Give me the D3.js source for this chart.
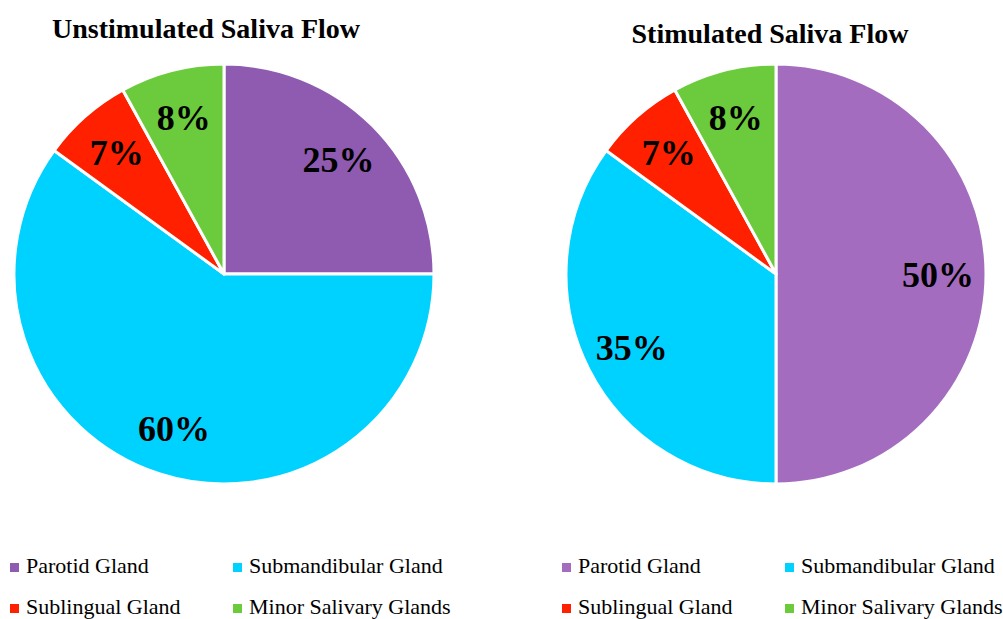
<!DOCTYPE html>
<html>
<head>
<meta charset="utf-8">
<script src="https://cdn.jsdelivr.net/npm/d3@7"></script>
<style>
  body { margin: 0; background: #fff; }
  svg { display: block; }
  .title { font-family: "Liberation Serif", "DejaVu Serif", serif; font-weight: bold; font-size: 28px; }
  .pct { font-family: "Liberation Serif", "DejaVu Serif", serif; font-weight: bold; font-size: 36px; }
  .legend-text { font-family: "Liberation Serif", "DejaVu Serif", serif; font-size: 22px; }
</style>
</head>
<body>
<div id="chart"></div>
<script>
// categories and values
const glands = ["Parotid Gland", "Submandibular Gland", "Sublingual Gland", "Minor Salivary Glands"];
const unstimulated = [25, 60, 7, 8];
const stimulated = [50, 35, 7, 8];
const titles = ["Unstimulated Saliva Flow", "Stimulated Saliva Flow"];
const colorsLeft = ["#8e5bb0", "#00d2ff", "#ff2000", "#6ccb3d"];
const colorsRight = ["#a46cbf", "#00d2ff", "#ff2000", "#6ccb3d"];

const width = 1003, height = 619;

const svg = d3.select("#chart")
    .append("svg")
    .attr("width", width)
    .attr("height", height);

const radius = 210;
const labelRadius = 162;

const pie = d3.pie().sort(null).value(d => d);
const arc = d3.arc().innerRadius(0).outerRadius(radius);
const labelArc = d3.arc().innerRadius(labelRadius).outerRadius(labelRadius);

function drawPie(values, colors, cx, cy, title, titleX, titleY, legendX){
    const g = svg.append("g").attr("transform", "translate(" + cx + "," + cy + ")");

    g.selectAll("path")
        .data(pie(values))
        .join("path")
        .attr("d", arc)
        .attr("fill", (d, i) => colors[i])
        .attr("stroke", "#fff")
        .attr("stroke-width", 3)
        .attr("stroke-linejoin", "round");

    g.selectAll("text")
        .data(pie(values))
        .join("text")
        .attr("class", "pct")
        .attr("text-anchor", "middle")
        .attr("dy", "0.35em")
        .attr("transform", d => "translate(" + labelArc.centroid(d) + ")")
        .text(d => d.data + "%");

    // title
    svg.append("text")
        .attr("class", "title")
        .attr("text-anchor", "middle")
        .attr("x", titleX)
        .attr("y", titleY)
        .text(title);

    // legend, 2 x 2
    const colX = [legendX, legendX + 223];
    const rowY = [573, 614];
    const lg = svg.append("g");
    glands.forEach((name, i) => {
        const x = colX[i % 2], y = rowY[Math.floor(i / 2)];
        lg.append("rect")
            .attr("x", x)
            .attr("y", y - 10)
            .attr("width", 9)
            .attr("height", 9)
            .attr("fill", colors[i]);
        lg.append("text")
            .attr("class", "legend-text")
            .attr("x", x + 16)
            .attr("y", y)
            .text(name);
    });
}

drawPie(unstimulated, colorsLeft, 224, 274, titles[0], 206, 38, 10);
drawPie(stimulated, colorsRight, 776, 274, titles[1], 770, 43, 562);
</script>
</body>
</html>
